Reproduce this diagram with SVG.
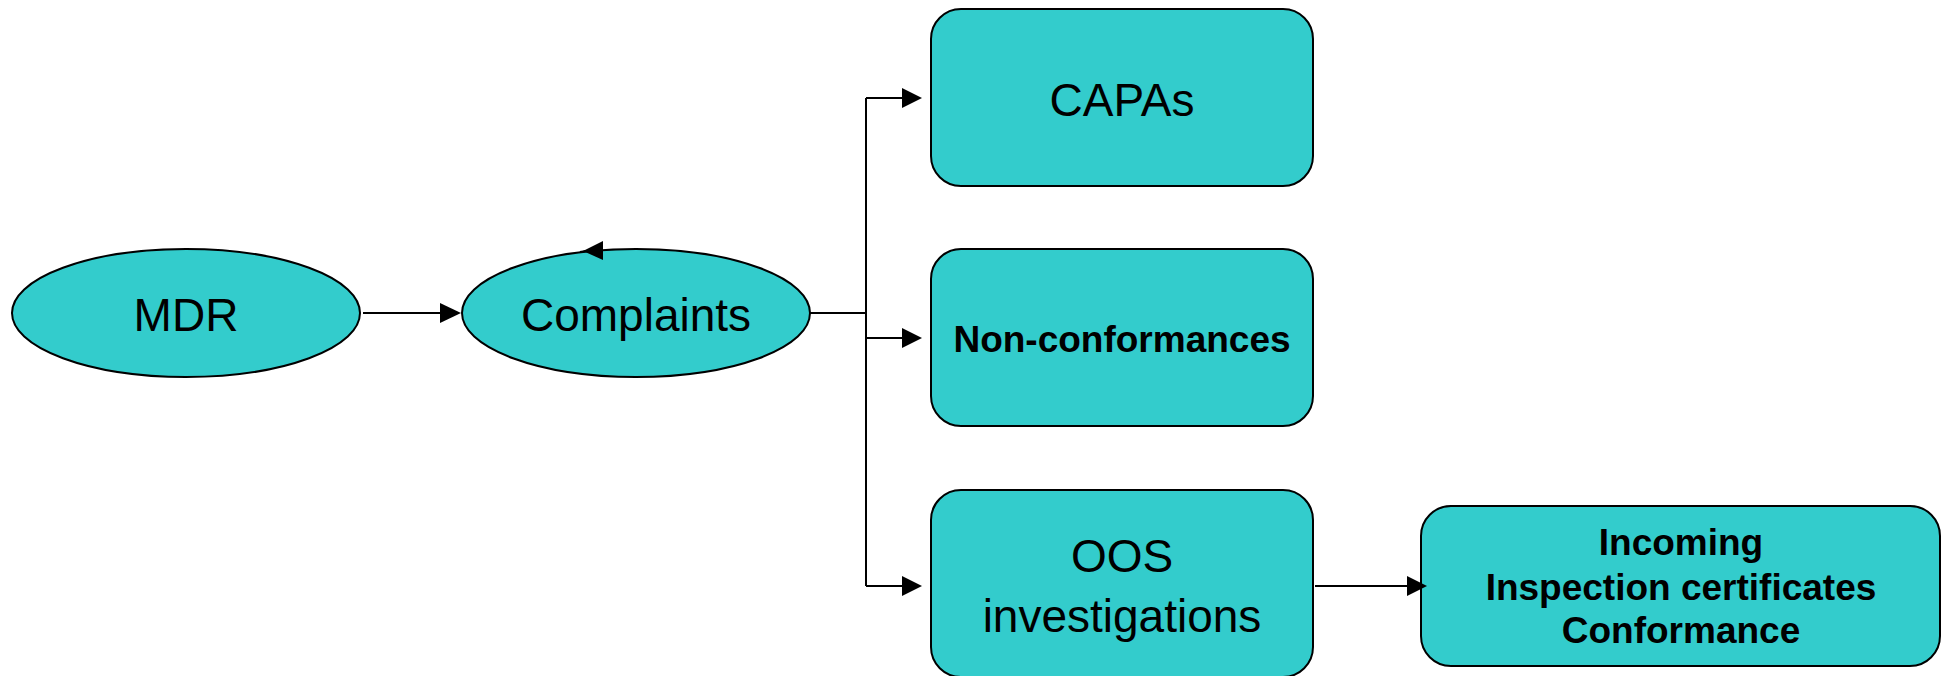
<svg xmlns="http://www.w3.org/2000/svg" width="1948" height="676" viewBox="0 0 1948 676">
<style>
.node{fill:#33CCCC;stroke:#000;stroke-width:2}
.lbl{font-family:"Liberation Sans",Arial,sans-serif;fill:#000;text-anchor:middle}
.reg{font-size:46px}
.bold{font-size:37px;font-weight:bold}
.conn{fill:none;stroke:#000;stroke-width:2}
.head{fill:#000;stroke:none}
</style>
<rect width="1948" height="676" fill="#fff"/>
<g id="mdr">
<ellipse class="node" cx="186" cy="313" rx="174" ry="64"/>
<text class="lbl reg" x="186" y="331">MDR</text>
</g>
<g id="complaints">
<ellipse class="node" cx="636" cy="313" rx="174" ry="64"/>
<text class="lbl reg" x="636" y="331">Complaints</text>
</g>
<g id="capas">
<rect class="node" x="931" y="9" width="382" height="177" rx="30" ry="30"/>
<text class="lbl reg" x="1122" y="116">CAPAs</text>
</g>
<g id="nonconf">
<rect class="node" x="931" y="249" width="382" height="177" rx="30" ry="30"/>
<text class="lbl bold" x="1122" y="352">Non-conformances</text>
</g>
<g id="oos">
<rect class="node" x="931" y="490" width="382" height="187" rx="30" ry="30"/>
<text class="lbl reg" x="1122" y="572">OOS</text>
<text class="lbl reg" x="1122" y="632">investigations</text>
</g>
<g id="incoming">
<rect class="node" x="1421" y="506" width="519" height="160" rx="30" ry="30"/>
<text class="lbl bold" x="1681" y="555">Incoming</text>
<text class="lbl bold" x="1681" y="600">Inspection certificates</text>
<text class="lbl bold" x="1681" y="643">Conformance</text>
</g>
<g id="connectors">
<line class="conn" x1="363" y1="313" x2="442" y2="313"/>
<polygon class="head" points="461,313 440,303 440,323"/>
<polyline class="conn" points="810,313 866,313"/>
<line class="conn" x1="866" y1="98" x2="866" y2="586"/>
<line class="conn" x1="866" y1="98" x2="904" y2="98"/>
<polygon class="head" points="922,98 902,88 902,108"/>
<line class="conn" x1="866" y1="338" x2="904" y2="338"/>
<polygon class="head" points="922,338 902,328 902,348"/>
<line class="conn" x1="866" y1="586" x2="904" y2="586"/>
<polygon class="head" points="922,586 902,576 902,596"/>
<line class="conn" x1="1315" y1="586" x2="1410" y2="586"/>
<polygon class="head" points="1427,586 1407,576 1407,596"/>
<line class="conn" x1="580" y1="252" x2="586" y2="251"/>
<polygon class="head" points="583,251 603,241 603,260"/>
</g>
</svg>
